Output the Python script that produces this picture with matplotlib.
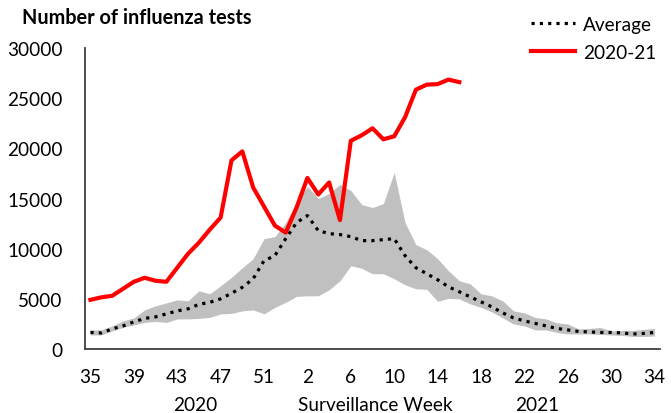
import matplotlib
matplotlib.use("Agg")
import matplotlib.pyplot as plt
import numpy as np

weeks = list(range(35, 54)) + list(range(1, 35))
tick_weeks = [35, 39, 43, 47, 51, 2, 6, 10, 14, 18, 22, 26, 30, 34]

season_2020_21 = [4900, 5150, 5300, 6000, 6700, 7100, 6800, 6700, 8100, 9500,
                  10600, 11900, 13100, 18800, 19700, 16100, 14200, 12300, 11600, 14100,
                  17050, 15400, 16600, 12850, 20750, 21300, 22000, 20900, 21200, 23100,
                  25850, 26350, 26400, 26850, 26600]

average = [1650, 1600, 2000, 2300, 2700, 3050, 3200, 3500, 3800, 4000,
           4450, 4650, 5000, 5550, 6150, 7000, 8800, 9300, 11000, 12600,
           13300, 11800, 11500, 11400, 11200, 10800, 10800, 10900, 11000, 9300,
           8100, 7500, 6900, 6200, 5700, 5200, 4700, 4200, 3600, 3100,
           2800, 2550, 2300, 2050, 1900, 1750, 1700, 1650, 1650, 1600,
           1500, 1550, 1650]

upper = [1900, 1900, 2300, 2800, 3100, 3900, 4300, 4600, 4900, 4800,
         5800, 5500, 6300, 7150, 8100, 9000, 11000, 11200, 12600, 14600,
         16200, 15000, 15500, 16400, 15800, 14400, 14100, 14500, 17600, 12600,
         10400, 9900, 9000, 7800, 6800, 6500, 5500, 5300, 4800, 3800,
         3600, 3150, 3000, 2600, 2500, 2000, 2050, 2150, 1800, 1850,
         1850, 1950, 2050]

lower = [1400, 1400, 1800, 2150, 2400, 2650, 2750, 2650, 3000, 3000,
         3050, 3150, 3500, 3550, 3800, 3900, 3500, 4150, 4650, 5250,
         5300, 5300, 5900, 6800, 8300, 8050, 7500, 7500, 7000, 6400,
         6000, 5950, 4750, 5050, 5000, 4500, 4150, 3700, 3100, 2500,
         2300, 1900, 1900, 1650, 1500, 1500, 1500, 1450, 1400, 1350,
         1250, 1250, 1300]

font = ["Lato", "DejaVu Sans"]
plt.rcParams["font.family"] = font
FS = 13.7

fig = plt.figure(figsize=(6.71, 4.14), dpi=100)
ax = fig.add_axes([0.1267, 0.1546, 0.8569, 0.727])

x = np.arange(len(weeks))
ax.fill_between(x, lower, upper, color="#c0c0c0", linewidth=0, zorder=1)
ax.plot(x, average, color="black", linestyle=(0, (1, 1.6)), linewidth=2.3,
        label="Average", zorder=2)
ax.plot(np.arange(len(season_2020_21)), season_2020_21, color="#ff0000",
        linewidth=3, label="2020-21", zorder=3)

ax.set_xlim(-0.5, len(weeks) - 0.5)
ax.set_ylim(0, 30000)
ax.set_yticks(range(0, 30001, 5000))
ax.set_yticklabels([str(v) for v in range(0, 30001, 5000)], fontsize=FS)
tick_pos = [i for i in range(len(weeks)) if i % 4 == 0]
ax.set_xticks(tick_pos)
ax.set_xticklabels([str(weeks[i]) for i in tick_pos], fontsize=FS)
ax.tick_params(axis="x", length=0, pad=14)
ax.tick_params(axis="y", length=0, pad=16)

for s in ["top", "right"]:
    ax.spines[s].set_visible(False)
for s in ["left", "bottom"]:
    ax.spines[s].set_color("#404040")
    ax.spines[s].set_linewidth(1.3)

fig.text(22 / 671, 1 - 18 / 414, "Number of influenza tests", fontsize=14.3,
         fontweight="bold", va="center", ha="left")
fig.text(195 / 671, 1 - 406 / 414, "2020", fontsize=FS, ha="center", va="center")
fig.text(375 / 671, 1 - 406 / 414, "Surveillance Week", fontsize=FS, ha="center", va="center")
fig.text(537 / 671, 1 - 406 / 414, "2021", fontsize=FS, ha="center", va="center")

leg = fig.legend(loc="upper right", bbox_to_anchor=(1.003, 1.0), frameon=False,
                 fontsize=FS, handlelength=2.3, handletextpad=0.4, labelspacing=0.55)

fig.savefig("out.png", dpi=100)
